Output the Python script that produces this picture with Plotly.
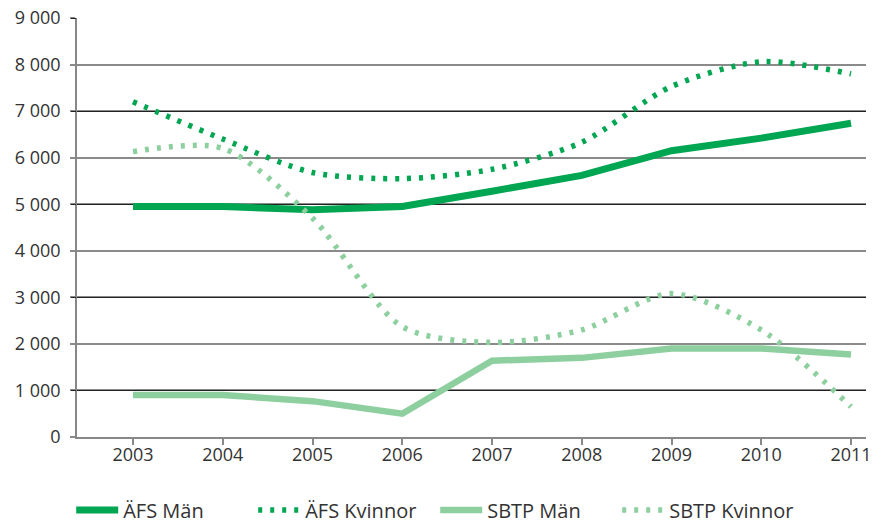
import plotly.graph_objects as go

years = [2003, 2004, 2005, 2006, 2007, 2008, 2009, 2010, 2011]
afs_man = [4950, 4950, 4880, 4950, 5280, 5620, 6150, 6420, 6740]
afs_kvinnor = [7200, 6400, 5680, 5550, 5750, 6330, 7530, 8060, 7800]
sbtp_man = [900, 900, 770, 500, 1640, 1700, 1900, 1900, 1770]
sbtp_kvinnor = [6130, 6200, 4700, 2370, 2030, 2300, 3080, 2300, 650]
y_ticks = [0, 1000, 2000, 3000, 4000, 5000, 6000, 7000, 8000, 9000]
y_dark_grid = [1000, 3000, 5000, 7000, 9000]

dark = "#00a651"
light = "#8dcf9f"
font = "Open Sans"

fig = go.Figure()
# empty helper trace so the overlaid axis (dark gridlines) is drawn
fig.add_trace(go.Scatter(x=[], y=[], yaxis="y2", showlegend=False, hoverinfo="skip"))
fig.add_trace(go.Scatter(x=years, y=afs_man, name="ÄFS Män", mode="lines",
                         line=dict(color=dark, width=7)))
fig.add_trace(go.Scatter(x=years, y=afs_kvinnor, name="ÄFS Kvinnor", mode="lines",
                         line=dict(color=dark, width=5.5, dash="4px,8px", shape="spline", smoothing=0.8)))
fig.add_trace(go.Scatter(x=years, y=sbtp_man, name="SBTP Män", mode="lines",
                         line=dict(color=light, width=6.5)))
fig.add_trace(go.Scatter(x=years, y=sbtp_kvinnor, name="SBTP Kvinnor", mode="lines",
                         line=dict(color=light, width=5.5, dash="4px,8px", shape="spline", smoothing=0.8)))

fig.update_layout(
    width=885, height=516,
    margin=dict(l=69, r=27, t=10, b=87, autoexpand=False),
    paper_bgcolor="white", plot_bgcolor="white",
    separators=", ",
    font=dict(family=font, size=18, color="#333333"),
    showlegend=True,
    legend=dict(orientation="h", x=0.454, xanchor="center", y=-0.174, yanchor="middle",
                font=dict(size=20, color="#333333"), itemwidth=42, entrywidth=125),
    xaxis=dict(range=[2002.376, 2011.167], tickmode="array", tickvals=years,
               ticktext=[str(y) for y in years], showgrid=False, zeroline=False,
               showline=True, linecolor="#888888", linewidth=1.5, automargin=False,
               ticks="outside", ticklen=6, tickcolor="#888888", tickwidth=1.5,
               ticklabeloverflow="allow", ticklabelstandoff=-5),
    yaxis=dict(range=[0, 9000], tickmode="array", tickvals=y_ticks, tickformat=",d",
               showgrid=True, gridcolor="#8a8a8a", gridwidth=1.5, zeroline=False,
               showline=True, linecolor="#888888", linewidth=1.5, automargin=False,
               ticks="outside", ticklen=5, tickcolor="#8a8a8a", tickwidth=1.5,
               ticklabeloverflow="allow", ticklabelstandoff=6),
    yaxis2=dict(range=[0, 9000], overlaying="y", side="left", tickmode="array",
                tickvals=y_dark_grid, showticklabels=False, showgrid=True,
                gridcolor="#222222", gridwidth=1.2, zeroline=False, showline=False,
                ticks="outside", ticklen=5, tickcolor="#222222", tickwidth=1.2,
                automargin=False),
)

fig.write_html("out.html")
